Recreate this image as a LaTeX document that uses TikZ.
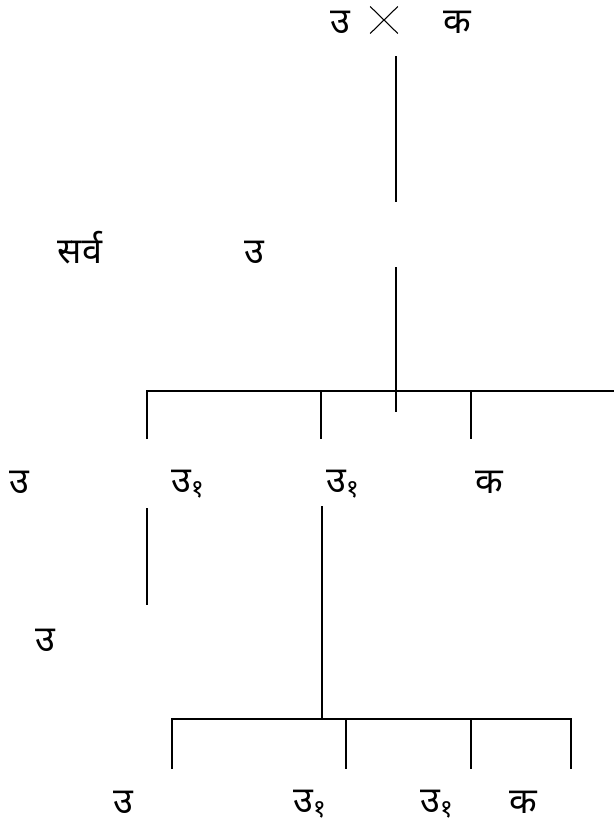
\documentclass[tikz,border=0pt]{standalone}
\usepackage{fontspec}
\usetikzlibrary{shapes.misc}
\newfontfamily\deva[Script=Devanagari]{Noto Sans}
\begin{document}
\begin{tikzpicture}[x=0.75pt,y=-0.75pt,
  lbl/.style={font=\deva\fontsize{27}{30}\selectfont, inner sep=0pt},
  ln/.style={line width=1.1pt, black}]
\useasboundingbox (0,0) rectangle (614,825);
% labels
\node[lbl] (t1) at (340,22) {उ};
\node[cross out, draw, line width=0.8pt, minimum width=20pt, minimum height=19.5pt, inner sep=0pt] (tx) at (384,20) {};
\node[lbl] (t2) at (457,22) {क};
\node[lbl] (s1) at (80,248) {सर्व};
\node[lbl] (s2) at (254,252) {उ};
\node[lbl] (r1) at (19,482) {उ};
\node[lbl] (r2) at (188,484) {उ\textsubscript{१}};
\node[lbl] (r3) at (343,484) {उ\textsubscript{१}};
\node[lbl] (r4) at (489,482) {क};
\node[lbl] (m1) at (45,640) {उ};
\node[lbl] (b1) at (123,802) {उ};
\node[lbl] (b2) at (310,804) {उ\textsubscript{१}};
\node[lbl] (b3) at (437,804) {उ\textsubscript{१}};
\node[lbl] (b4) at (523,802) {क};
% coordinates
\coordinate (a1) at (396,56);
\coordinate (a2) at (396,202);
\coordinate (a3) at (396,267);
\coordinate (a4) at (396,412);
\coordinate (a5) at (396,391);
\coordinate (h1) at (147,391);
\coordinate (h2) at (614,391);
\coordinate (c1) at (147,439);
\coordinate (c2a) at (321,391);
\coordinate (c2) at (321,439);
\coordinate (c3a) at (471,391);
\coordinate (c3) at (471,439);
\coordinate (d1) at (147,508);
\coordinate (d2) at (147,605);
\coordinate (e1) at (322,506);
\coordinate (e2) at (322,720);
\coordinate (g1) at (172,719);
\coordinate (g2) at (571,719);
\coordinate (k1) at (172,769);
\coordinate (k2a) at (346,719);
\coordinate (k2) at (346,769);
\coordinate (k3a) at (471,719);
\coordinate (k3) at (471,769);
\coordinate (k4) at (571,769);
% lines
\draw[ln] (a1) -- (a2);
\draw[ln] (a3) -- (a4);
\draw[ln] (c1) -- (h1) -- (h2);
\draw[ln] (c2a) -- (c2);
\draw[ln] (c3a) -- (c3);
\draw[ln] (d1) -- (d2);
\draw[ln] (e1) -- (e2);
\draw[ln] (k1) -- (g1) -- (g2) -- (k4);
\draw[ln] (k2a) -- (k2);
\draw[ln] (k3a) -- (k3);
\end{tikzpicture}
\end{document}
